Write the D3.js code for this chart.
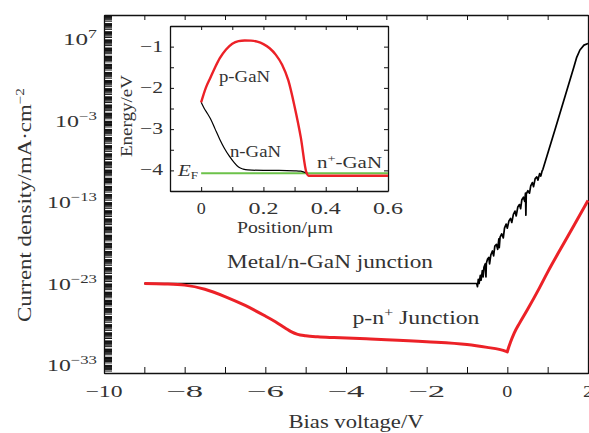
<!DOCTYPE html>
<html>
<head>
<meta charset="utf-8">
<script src="https://cdn.jsdelivr.net/npm/d3@7"></script>
<style>
  body { margin: 0; background: #fff; }
  text { font-family: "Liberation Serif", "DejaVu Serif", serif; fill: #333; }
</style>
</head>
<body>
<script>
var width = 589;
var height = 433;

// ------- data --------

// main chart: bias voltage (V) and log10 of current density (mA/cm^2)
var metalJunction = [
    [-9, -23.0], [-0.78, -23.0], [-0.76, -23.0], [-0.74, -23.4], [-0.72, -22.5], [-0.70, -23.0],
    [-0.67, -22.0], [-0.65, -22.6], [-0.62, -21.4], [-0.60, -22.2], [-0.58, -21.0], [-0.55, -20.6],
    [-0.53, -22.2], [-0.52, -20.5], [-0.49, -20.0], [-0.46, -19.8], [-0.44, -20.6], [-0.41, -19.5],
    [-0.37, -19.0], [-0.34, -19.6], [-0.31, -18.4], [-0.27, -18.2], [-0.24, -18.8], [-0.21, -17.5],
    [-0.20, -18.6], [-0.18, -17.3], [-0.14, -16.9], [-0.10, -17.4], [-0.07, -16.2], [-0.03, -15.7],
    [0.00, -16.2], [0.04, -15.3], [0.08, -15.0], [0.11, -15.5], [0.15, -14.5], [0.19, -14.1],
    [0.22, -14.7], [0.26, -13.6], [0.30, -13.3], [0.33, -13.8], [0.36, -12.7], [0.40, -12.4],
    [0.43, -12.9], [0.45, -11.9], [0.46, -14.6], [0.47, -12.0], [0.51, -11.6], [0.55, -11.9],
    [0.58, -11.0], [0.62, -10.6], [0.65, -11.1], [0.69, -10.1], [0.73, -9.9], [0.76, -10.3],
    [0.80, -9.5], [0.83, -9.8], [0.86, -9.2], [0.88, -9.0], [1.2, -3.8], [1.65, 3.6],
    [1.72, 4.8], [1.8, 5.7], [1.9, 6.3], [2.0, 6.5]
];

var pnJunction = [
    [-9, -23.0], [-8.5, -23.05], [-8, -23.2], [-7.5, -23.7], [-7, -24.6], [-6.5, -25.7],
    [-6, -27.0], [-5.75, -27.7], [-5.5, -28.5], [-5.35, -28.95], [-5.2, -29.25], [-5.0, -29.42],
    [-4.7, -29.55], [-4.3, -29.65], [-3.5, -29.8], [-3, -29.9], [-2, -30.15], [-1, -30.5],
    [-0.5, -30.85], [-0.2, -31.1], [-0.05, -31.3], [0, -31.4]
];
var pnForward = [
    [0, -31.4], [0.03, -30.9], [0.08, -30.2], [0.17, -29.1], [0.3, -27.9], [0.5, -26.2],
    [0.79, -23.6], [1.0, -21.6], [1.5, -17.2], [2.0, -12.8]
];

// inset: position (um) and energy (eV)
var pGaNBand = [
    [0, -2.35], [0.015, -2.0], [0.03, -1.75], [0.045, -1.5], [0.06, -1.28], [0.08, -1.07],
    [0.1, -0.93], [0.12, -0.865], [0.14, -0.85], [0.16, -0.855], [0.18, -0.88], [0.2, -0.94],
    [0.22, -1.04], [0.24, -1.2], [0.26, -1.44], [0.28, -1.82], [0.3, -2.45], [0.32, -3.2],
    [0.338, -4.05], [0.345, -4.13], [0.6, -4.13]
];
var nGaNBand = [
    [0, -2.35], [0.01, -2.5], [0.02, -2.62], [0.03, -2.75], [0.045, -3.0], [0.06, -3.25],
    [0.075, -3.47], [0.09, -3.65], [0.105, -3.8], [0.12, -3.92], [0.135, -3.97], [0.15, -3.99],
    [0.2, -4.0], [0.25, -4.0], [0.3, -4.01], [0.32, -4.02], [0.34, -4.07]
];
var fermiLevel = [[0, -4.07], [0.6, -4.07]];

// ticks
var xTicks = [-10, -8, -6, -4, -2, 0, 2];
var yTickExps = [7, -3, -13, -23, -33];
var insetXTicks = [0, 0.2, 0.4, 0.6];
var insetYTicks = [-1, -2, -3, -4];

var red = '#ec2127';
var green = '#6cc24a';

// ------- SVG --------

var svg = d3.select('body')
    .append('svg')
    .attr('width', width)
    .attr('height', height);

var x = d3.scaleLinear().domain([-10, 2]).range([104, 588]),
    y = d3.scaleLog().domain([1e-34, 1e10]).range([373, 15]);

function minus(v) { return String(v).replace('-', '\u2212'); }

// stretch serif text to the wider look of the original typeface
function fit(sel, len) {
    return sel.attr('textLength', len).attr('lengthAdjust', 'spacingAndGlyphs');
}

// minor log ticks for every decade
var decadeTicks = [];
for (var k = -34; k < 10; k++) {
    for (var m = 1; m < 10; m++) decadeTicks.push(m * Math.pow(10, k));
}
decadeTicks.push(1e10);

var xMinor = d3.range(-10, 2.01, 1);

function plainAxis(g) {
    g.selectAll('text').remove();
    g.select('.domain').attr('stroke', '#111').attr('stroke-width', 1.3);
    g.selectAll('.tick line').attr('stroke', '#111').attr('stroke-width', 1);
}

svg.append('g').attr('transform', 'translate(0,373)')
    .call(d3.axisBottom(x).tickValues(xMinor).tickSize(-6).tickSizeOuter(0)).call(plainAxis);
svg.append('g').attr('transform', 'translate(0,15)')
    .call(d3.axisTop(x).tickValues(xMinor).tickSize(-5).tickSizeOuter(0)).call(plainAxis);
svg.append('g').attr('transform', 'translate(104,0)')
    .call(d3.axisLeft(y).tickValues(decadeTicks).tickSize(-8).tickSizeOuter(0)).call(plainAxis);
svg.append('g').attr('transform', 'translate(588,0)')
    .call(d3.axisRight(y).tickValues(decadeTicks).tickSize(6).tickSizeOuter(0)).call(plainAxis);

// tick labels
svg.selectAll('text.xt')
    .data(xTicks)
    .enter()
    .append('text')
    .attr('class', 'xt')
    .attr('x', function(d) { return x(d); })
    .attr('y', 397)
    .attr('text-anchor', 'middle')
    .attr('font-size', 17)
    .attr('textLength', function(d) { return d < 0 ? 37 : 10; })
    .attr('lengthAdjust', 'spacingAndGlyphs')
    .text(function(d) { return minus(d); });

var yt = svg.selectAll('text.yt')
    .data(yTickExps)
    .enter()
    .append('text')
    .attr('class', 'yt')
    .attr('x', 97)
    .attr('y', function(d) { return y(Math.pow(10, d)) + 6; })
    .attr('text-anchor', 'end')
    .attr('font-size', 17)
    .attr('textLength', function(d) { return d > 0 ? 34 : (d > -10 ? 42 : 50); })
    .attr('lengthAdjust', 'spacingAndGlyphs');
yt.append('tspan').text('10');
yt.append('tspan').attr('dy', -7).attr('font-size', 12).text(function(d) { return minus(d); });

// axis titles
fit(svg.append('text')
    .attr('x', 356).attr('y', 428)
    .attr('text-anchor', 'middle')
    .attr('font-size', 18)
    .text('Bias voltage/V'), 135);

var yTitle = fit(svg.append('text')
    .attr('transform', 'translate(31,205) rotate(-90)')
    .attr('text-anchor', 'middle')
    .attr('font-size', 18), 234);
yTitle.append('tspan').text('Current density/mA\u00b7cm');
yTitle.append('tspan').attr('dy', -7).attr('font-size', 12).text('\u22122');

// curves
var line = d3.line()
    .x(function(d) { return x(d[0]); })
    .y(function(d) { return y(Math.pow(10, d[1])); });

svg.append('path')
    .attr('d', line(metalJunction))
    .attr('fill', 'none')
    .attr('stroke', '#000')
    .attr('stroke-width', 1.7)
    .attr('stroke-linejoin', 'round');

var smooth = d3.line()
    .curve(d3.curveMonotoneX)
    .x(function(d) { return x(d[0]); })
    .y(function(d) { return y(Math.pow(10, d[1])); });

svg.append('path')
    .attr('d', smooth(pnJunction) + smooth(pnForward).replace('M', 'L'))
    .attr('fill', 'none')
    .attr('stroke', red)
    .attr('stroke-width', 3)
    .attr('stroke-linejoin', 'round');

// annotations
fit(svg.append('text')
    .attr('x', 330).attr('y', 268)
    .attr('text-anchor', 'middle')
    .attr('font-size', 18)
    .text('Metal/n-GaN junction'), 206);

var pn = fit(svg.append('text')
    .attr('x', 416).attr('y', 324)
    .attr('text-anchor', 'middle')
    .attr('font-size', 18), 127);
pn.append('tspan').text('p-n');
pn.append('tspan').attr('dy', -7).attr('font-size', 12).text('+');
pn.append('tspan').attr('dy', 7).text(' Junction');

// ------- inset --------

var ix = d3.scaleLinear().domain([-0.1, 0.6]).range([170, 388]),
    iy = d3.scaleLinear().domain([-4.5, -0.5]).range([191, 26]);

svg.append('rect')
    .attr('x', 170).attr('y', 26)
    .attr('width', 218).attr('height', 165)
    .attr('fill', '#fff');

var ixMinor = d3.range(-0.1, 0.61, 0.1),
    iyMinor = d3.range(-4.5, -0.49, 0.5);

svg.append('g').attr('transform', 'translate(0,191)')
    .call(d3.axisBottom(ix).tickValues(ixMinor).tickSize(-4).tickSizeOuter(0)).call(plainAxis);
svg.append('g').attr('transform', 'translate(0,26)')
    .call(d3.axisTop(ix).tickValues(ixMinor).tickSize(-4).tickSizeOuter(0)).call(plainAxis);
svg.append('g').attr('transform', 'translate(170,0)')
    .call(d3.axisLeft(iy).tickValues(iyMinor).tickSize(-4).tickSizeOuter(0)).call(plainAxis);
svg.append('g').attr('transform', 'translate(388,0)')
    .call(d3.axisRight(iy).tickValues(iyMinor).tickSize(-4).tickSizeOuter(0)).call(plainAxis);

svg.selectAll('text.ixt')
    .data(insetXTicks)
    .enter()
    .append('text')
    .attr('class', 'ixt')
    .attr('x', function(d) { return ix(d); })
    .attr('y', 214)
    .attr('text-anchor', 'middle')
    .attr('font-size', 16)
    .attr('textLength', function(d) { return d === 0 ? 9 : 30; })
    .attr('lengthAdjust', 'spacingAndGlyphs')
    .text(function(d) { return d === 0 ? '0' : String(d); });

svg.selectAll('text.iyt')
    .data(insetYTicks)
    .enter()
    .append('text')
    .attr('class', 'iyt')
    .attr('x', 163)
    .attr('y', function(d) { return iy(d) + 5; })
    .attr('text-anchor', 'end')
    .attr('font-size', 16)
    .attr('textLength', 23)
    .attr('lengthAdjust', 'spacingAndGlyphs')
    .text(function(d) { return minus(d); });

fit(svg.append('text')
    .attr('x', 285).attr('y', 233)
    .attr('text-anchor', 'middle')
    .attr('font-size', 16)
    .text('Position/\u03bcm'), 96);

fit(svg.append('text')
    .attr('transform', 'translate(132,116) rotate(-90)')
    .attr('text-anchor', 'middle')
    .attr('font-size', 16)
    .text('Energy/eV'), 82);

var iline = d3.line()
    .curve(d3.curveMonotoneX)
    .x(function(d) { return ix(d[0]); })
    .y(function(d) { return iy(d[1]); });

svg.append('path')
    .attr('d', iline(fermiLevel))
    .attr('fill', 'none').attr('stroke', green).attr('stroke-width', 2.2);
svg.append('path')
    .attr('d', iline(nGaNBand))
    .attr('fill', 'none').attr('stroke', '#000').attr('stroke-width', 1.2);
svg.append('path')
    .attr('d', iline(pGaNBand))
    .attr('fill', 'none').attr('stroke', red).attr('stroke-width', 2.4);

fit(svg.append('text').attr('x', 219).attr('y', 82).attr('font-size', 16).text('p-GaN'), 51);
fit(svg.append('text').attr('x', 230).attr('y', 157).attr('font-size', 16).text('n-GaN'), 51);

var np = fit(svg.append('text').attr('x', 317).attr('y', 168).attr('font-size', 16), 65);
np.append('tspan').text('n');
np.append('tspan').attr('dy', -6).attr('font-size', 11).text('+');
np.append('tspan').attr('dy', 6).text('-GaN');

var ef = fit(svg.append('text').attr('x', 178).attr('y', 176).attr('font-size', 16), 20);
ef.append('tspan').attr('font-style', 'italic').text('E');
ef.append('tspan').attr('dy', 3).attr('font-size', 10).text('F');
</script>
</body>
</html>
